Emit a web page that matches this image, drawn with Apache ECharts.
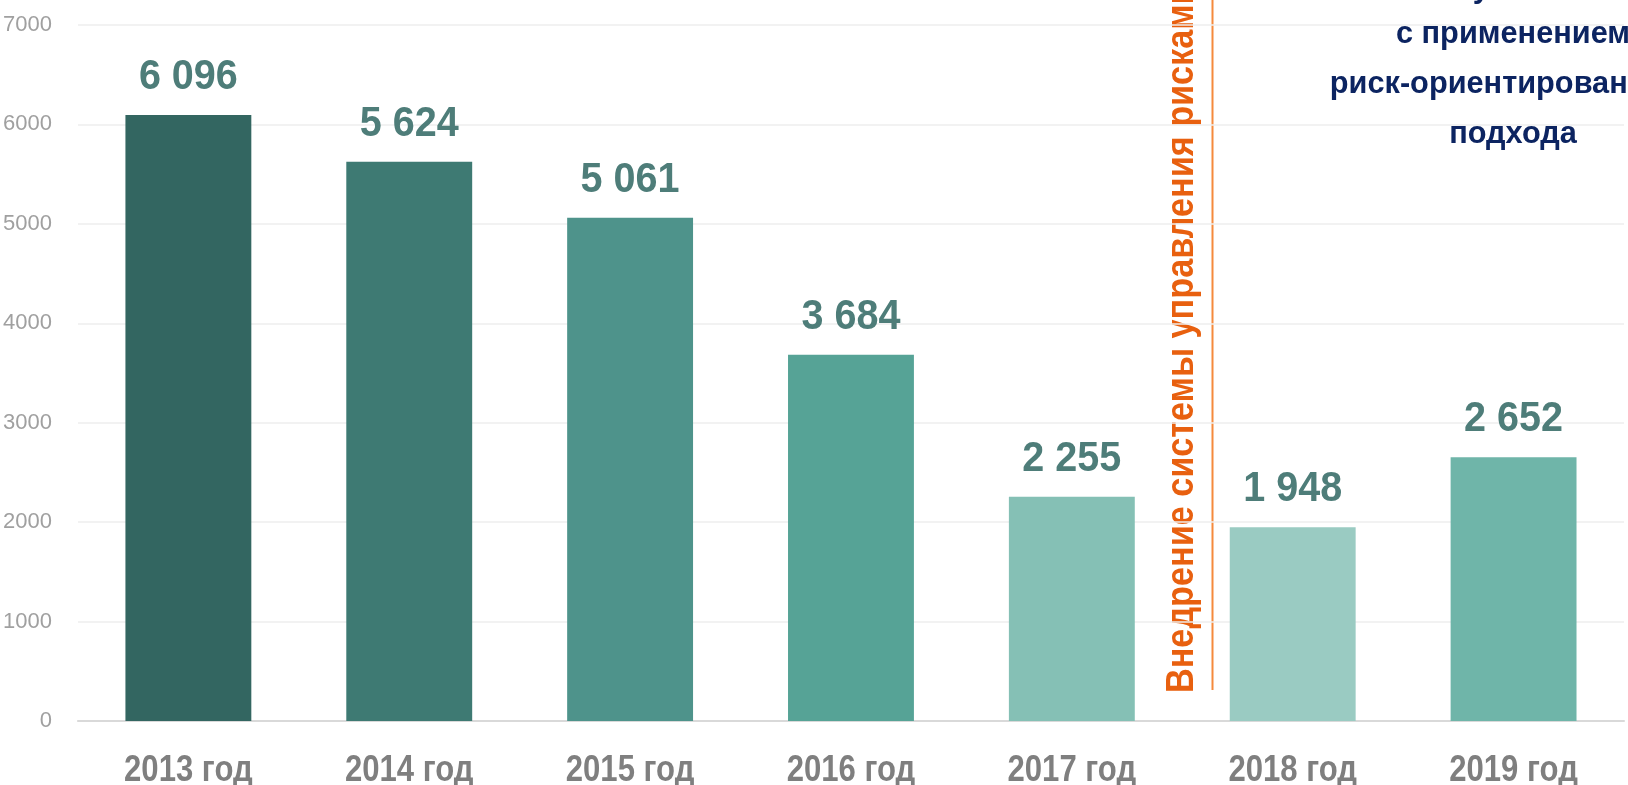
<!DOCTYPE html>
<html>
<head>
	<meta charset="UTF-8">
	<title>Bars</title>
	<style type="text/css">
		html, body{
			margin: 0;
			padding: 0;
			background: #fff;
		}
		#chart{
			width: 1628px;
			height: 785px;
		}
	</style>
</head>
<body>
	<div id="chart"></div>

	<script type="text/javascript" src="https://cdn.jsdelivr.net/npm/echarts@6/dist/echarts.min.js"></script>
	<script type="text/javascript">
		var years = ['2013 год', '2014 год', '2015 год', '2016 год', '2017 год', '2018 год', '2019 год']
		var counts = [6096, 5624, 5061, 3684, 2255, 1948, 2652]
		var barColors = ['#336661', '#3e7a73', '#4e938b', '#56a396', '#85c0b5', '#9acbc2', '#6fb5a9']
		var yTicks = [0, 1000, 2000, 3000, 4000, 5000, 6000, 7000]

		var sans = '"Liberation Sans", Arial, sans-serif'

		var chart = echarts.init(document.getElementById('chart'))

		function spaced (v){
			return String(v).replace(/\B(?=(\d{3})+(?!\d))/g, ' ')
		}

		// the reference uses a narrow font, so texts are squeezed with scaleX
		function renderLabels (params, api){
			var i = params.dataIndex
			var top = api.coord([i, counts[i]])
			var base = api.coord([i, 0])
			return {
				type: 'group',
				children: [
					{
						type: 'text',
						x: top[0],
						y: top[1] - 38,
						scaleX: 0.92,
						style: {
							text: spaced(counts[i]),
							fill: '#4e7d79',
							font: 'bold 43px ' + sans,
							align: 'center',
							verticalAlign: 'middle'
						}
					},
					{
						type: 'text',
						x: base[0],
						y: base[1] + 50,
						scaleX: 0.84,
						style: {
							text: years[i],
							fill: '#7f7f7f',
							font: 'bold 37px ' + sans,
							align: 'center',
							verticalAlign: 'middle'
						}
					}
				]
			}
		}

		var option = {
			animation: false,
			grid: {
				left: 76,
				right: 4,
				top: 25,
				bottom: 64
			},
			xAxis: {
				type: 'category',
				data: years,
				axisTick: {show: false},
				axisLine: {lineStyle: {color: '#d9d9d9', width: 2}},
				axisLabel: {show: false}
			},
			yAxis: {
				type: 'value',
				min: yTicks[0],
				max: yTicks[yTicks.length - 1],
				interval: 1000,
				axisLine: {show: false},
				axisTick: {show: false},
				splitLine: {lineStyle: {color: '#eeeeee', width: 1.5}},
				axisLabel: {
					color: '#a0a0a0',
					fontFamily: sans,
					fontSize: 22,
					margin: 26,
					formatter: function (v){ return String(v) }
				}
			},
			series: [
				{
					type: 'bar',
					barWidth: '57%',
					data: counts.map(function (v, i){
						return {value: v, itemStyle: {color: barColors[i]}}
					})
				},
				{
					type: 'custom',
					silent: true,
					clip: false,
					data: counts.map(function (v, i){ return [i, v] }),
					renderItem: renderLabels
				}
			],
			graphic: [
				{
					type: 'line',
					shape: {x1: 1212.5, y1: 0, x2: 1212.5, y2: 690},
					style: {stroke: '#f58a3c', lineWidth: 2}
				},
				{
					type: 'text',
					x: 1183,
					y: 693,
					rotation: Math.PI / 2,
					scaleX: 0.9,
					style: {
						text: 'Внедрение системы управления рисками',
						fill: '#e8600f',
						font: 'bold 38px ' + sans,
						align: 'left',
						verticalAlign: 'middle'
					}
				},
				{
					type: 'text',
					x: 1510,
					y: -12,
					scaleX: 0.96,
					style: {
						text: 'Результаты',
						fill: '#0c2461',
						font: 'bold 32px ' + sans,
						align: 'center',
						verticalAlign: 'middle'
					}
				},
				{
					type: 'text',
					x: 1513,
					y: 9,
					scaleX: 0.96,
					style: {
						text: 'с применением\nриск-ориентированного\nподхода',
						fill: '#0c2461',
						font: 'bold 32px ' + sans,
						lineHeight: 50,
						align: 'center',
						verticalAlign: 'top'
					}
				}
			]
		};

		chart.setOption(option);
	</script>
</body>
</html>
